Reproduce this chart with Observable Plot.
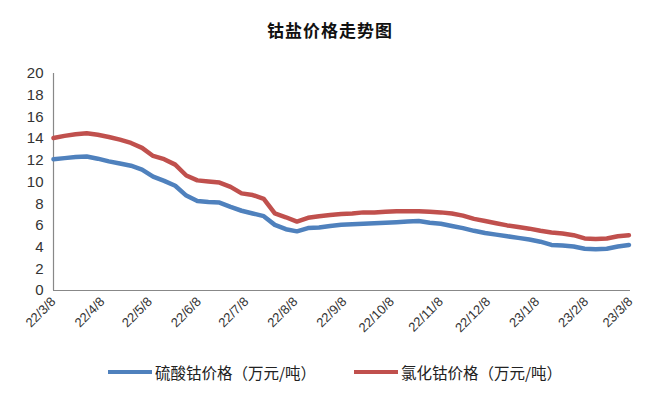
<!DOCTYPE html>
<html><head><meta charset="utf-8">
<script src="https://cdn.jsdelivr.net/npm/d3@7"></script>
<script src="https://cdn.jsdelivr.net/npm/@observablehq/plot@0.6"></script>
<style>
body{margin:0;background:#fff;width:660px;font-family:"Noto Sans CJK SC",sans-serif;}
#title{height:55px;line-height:60px;text-align:center;font-size:17px;font-weight:bold;color:#111;letter-spacing:1px;}
#legend{display:flex;justify-content:center;gap:38px;margin-top:16px;font-size:15.5px;line-height:22px;color:#222;padding-left:10px;}
#legend .item{display:flex;align-items:center;}
#legend .sw{width:44px;height:4px;margin-right:3px;}
</style></head><body>
<div id="title">钴盐价格走势图</div>
<div id="chart"></div>
<div id="legend"></div>
<script>
const startDate = "2022-03-08";
const seriesNames = ["硫酸钴价格（万元/吨）", "氯化钴价格（万元/吨）"];
const seriesColors = ["#4F81BD", "#C0504D"];
// weekly readings
const cobaltSulfate = [12.1,12.2,12.3,12.35,12.15,11.9,11.7,11.5,11.15,10.5,10.1,9.65,8.75,8.25,8.15,8.1,7.7,7.35,7.1,6.85,6.05,5.65,5.45,5.75,5.8,5.95,6.05,6.1,6.15,6.2,6.25,6.3,6.35,6.4,6.25,6.15,5.95,5.75,5.5,5.3,5.15,5.0,4.85,4.7,4.5,4.2,4.15,4.05,3.85,3.8,3.85,4.05,4.2];
const cobaltChloride = [14.05,14.25,14.4,14.5,14.35,14.15,13.9,13.6,13.15,12.4,12.1,11.6,10.6,10.15,10.05,9.95,9.55,8.95,8.8,8.45,7.1,6.75,6.35,6.7,6.85,6.95,7.05,7.1,7.2,7.2,7.25,7.3,7.3,7.3,7.25,7.2,7.1,6.9,6.6,6.4,6.2,6.0,5.85,5.7,5.5,5.35,5.25,5.1,4.8,4.75,4.8,5.0,5.1];
const tickDates = ["2022-03-08","2022-04-08","2022-05-08","2022-06-08","2022-07-08","2022-08-08","2022-09-08","2022-10-08","2022-11-08","2022-12-08","2023-01-08","2023-02-08","2023-03-08"];
const yTicks = [0,2,4,6,8,10,12,14,16,18,20];

const t0 = new Date(startDate);
const dates = cobaltSulfate.map((_, i) => new Date(t0.getTime() + i * 7 * 864e5));
const rows = [];
[cobaltSulfate, cobaltChloride].forEach((arr, s) => arr.forEach((v, i) => rows.push({date: dates[i], value: v, series: seriesNames[s]})));
const xTicks = tickDates.map(d => new Date(d));

const chart = Plot.plot({
  width: 660, height: 290,
  marginTop: 18, marginBottom: 55, marginLeft: 53, marginRight: 30,
  style: {fontFamily: "'Liberation Sans', Arial, sans-serif", color: "#333", background: "#fff"},
  x: {type: "utc", domain: [xTicks[0], xTicks[xTicks.length-1]], label: null},
  y: {domain: [0, 20], label: null},
  color: {domain: seriesNames, range: seriesColors},
  marks: [
    Plot.axisX({ticks: xTicks, tickFormat: d3.utcFormat("%y/%-m/%-d"), tickRotate: -45, tickSize: 0, tickPadding: 9, fontSize: 13, label: null, fill: "#333"}),
    Plot.axisY({ticks: yTicks, tickSize: 0, tickPadding: 10, fontSize: 15, label: null, fill: "#333"}),
    Plot.ruleY([0], {stroke: "#888", strokeWidth: 1.2}),
    Plot.ruleX([xTicks[0]], {stroke: "#888", strokeWidth: 1.2}),
    Plot.line(rows, {x: "date", y: "value", z: "series", stroke: "series", strokeWidth: 4.5, curve: "linear"})
  ]
});
document.getElementById("chart").appendChild(chart);

const lg = document.getElementById("legend");
seriesNames.forEach((n, i) => {
  const it = document.createElement("div"); it.className = "item";
  const sw = document.createElement("span"); sw.className = "sw"; sw.style.background = seriesColors[i];
  const tx = document.createElement("span"); tx.textContent = n;
  it.appendChild(sw); it.appendChild(tx); lg.appendChild(it);
});
</script>
</body></html>
